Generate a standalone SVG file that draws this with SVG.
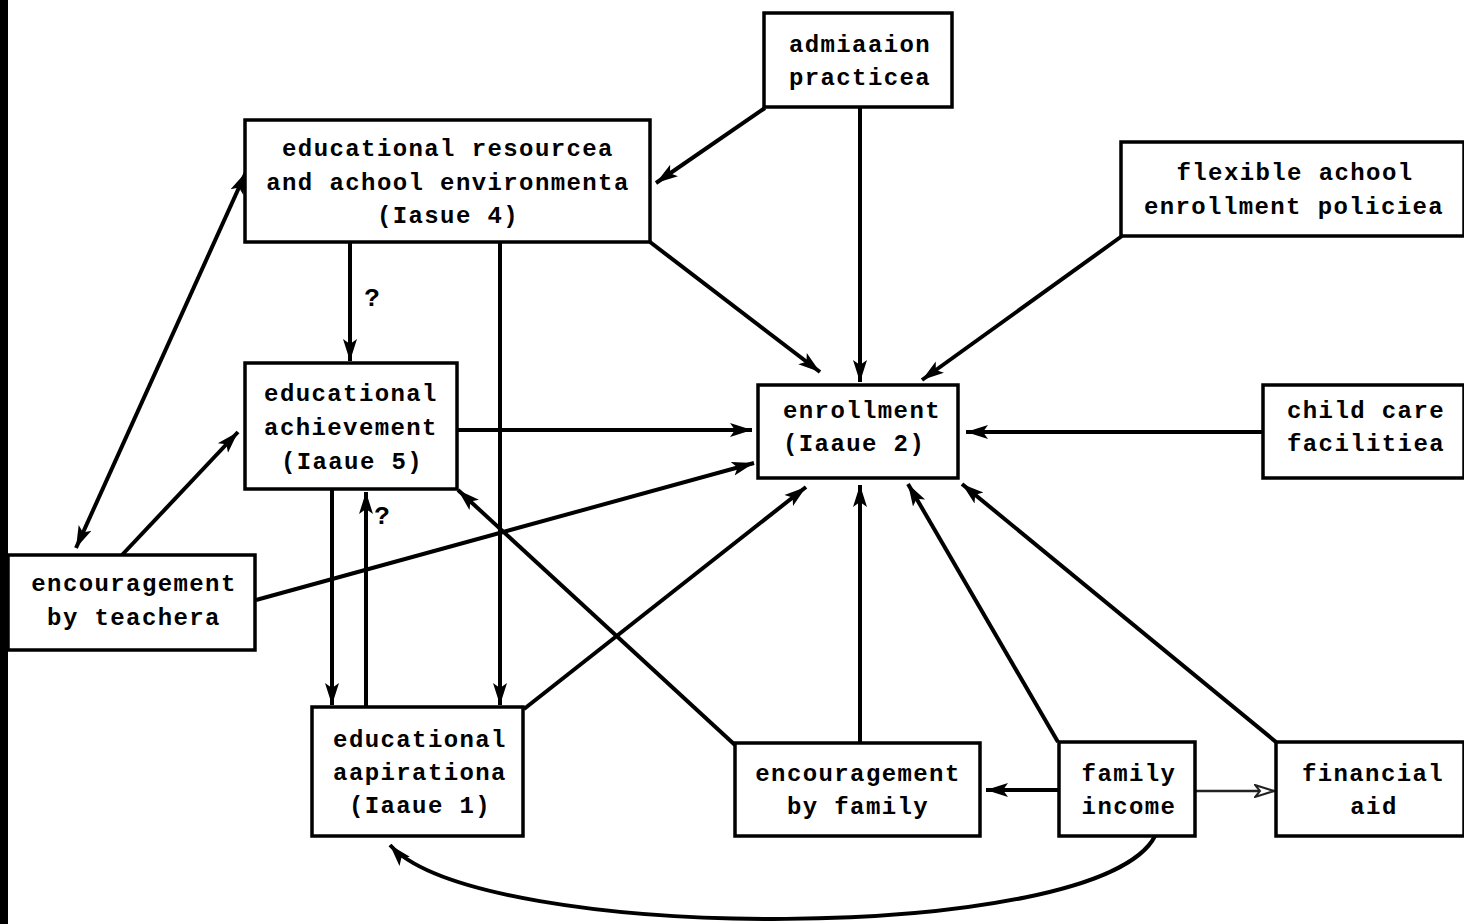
<svg xmlns="http://www.w3.org/2000/svg" width="1464" height="924" viewBox="0 0 1464 924">
<style>
.box{fill:#fff;stroke:#000;stroke-width:3.5}
.t{font-family:"Liberation Mono","DejaVu Sans Mono",monospace;font-weight:bold;font-size:24px;letter-spacing:1.4px;fill:#000;text-anchor:middle}
.ts{text-anchor:start}
.c{fill:none;stroke:#000;stroke-width:4}
.thin{fill:none;stroke:#222;stroke-width:2.4}
.q{font-family:"Liberation Mono","DejaVu Sans Mono",monospace;font-weight:bold;font-size:26px;fill:#000;text-anchor:middle}
</style>
<defs>
<marker id="ah" markerUnits="userSpaceOnUse" markerWidth="24" markerHeight="16" refX="22" refY="8" orient="auto">
<path d="M0,1 L22,8 L0,15 L5,8 Z" fill="#000"/>
</marker>
<marker id="ahs" markerUnits="userSpaceOnUse" markerWidth="24" markerHeight="16" refX="22" refY="8" orient="auto-start-reverse">
<path d="M0,1 L22,8 L0,15 L5,8 Z" fill="#000"/>
</marker>
<marker id="ahl" markerUnits="userSpaceOnUse" markerWidth="22" markerHeight="14" refX="20" refY="7" orient="auto">
<path d="M1,1 L20,7 L1,13 L6,7 Z" fill="#fff" stroke="#222" stroke-width="2"/>
</marker>
</defs>
<rect x="0" y="0" width="1464" height="924" fill="#fff"/>
<rect x="0" y="0" width="8" height="924" fill="#000"/>

<g id="connectors">
<line class="c" x1="765" y1="108" x2="656" y2="183" marker-end="url(#ah)"/>
<line class="c" x1="860" y1="107" x2="860" y2="382" marker-end="url(#ah)"/>
<line class="c" x1="650" y1="242" x2="820" y2="372" marker-end="url(#ah)"/>
<line class="c" x1="1122" y1="236" x2="922" y2="380" marker-end="url(#ah)"/>
<line class="c" x1="350" y1="243" x2="350" y2="361" marker-end="url(#ah)"/>
<line class="c" x1="500" y1="243" x2="500" y2="705" marker-end="url(#ah)"/>
<line class="c" x1="246" y1="172" x2="76" y2="548" marker-start="url(#ahs)" marker-end="url(#ah)"/>
<line class="c" x1="122" y1="555" x2="238" y2="432" marker-end="url(#ah)"/>
<line class="c" x1="256" y1="600" x2="754" y2="463" marker-end="url(#ah)"/>
<line class="c" x1="458" y1="430" x2="752" y2="430" marker-end="url(#ah)"/>
<line class="c" x1="332" y1="490" x2="332" y2="705" marker-end="url(#ah)"/>
<line class="c" x1="366" y1="707" x2="366" y2="492" marker-end="url(#ah)"/>
<line class="c" x1="524" y1="709" x2="806" y2="487" marker-end="url(#ah)"/>
<line class="c" x1="735" y1="745" x2="458" y2="490" marker-end="url(#ah)"/>
<line class="c" x1="860" y1="743" x2="860" y2="485" marker-end="url(#ah)"/>
<line class="c" x1="1058" y1="742" x2="908" y2="484" marker-end="url(#ah)"/>
<line class="c" x1="1276" y1="742" x2="962" y2="484" marker-end="url(#ah)"/>
<line class="c" x1="1263" y1="432" x2="966" y2="432" marker-end="url(#ah)"/>
<line class="c" x1="1059" y1="790" x2="986" y2="790" marker-end="url(#ah)"/>
<line class="thin" x1="1195" y1="791" x2="1274" y2="791" marker-end="url(#ahl)"/>
<path class="c" d="M1155,836 C1100,945 480,945 390,845" marker-end="url(#ah)"/>
<text class="q" x="372" y="306">?</text>
<text class="q" x="382" y="524">?</text>
</g>

<g id="admission">
<rect class="box" x="764" y="13" width="188" height="94"/>
<text class="t" x="860" y="52">admiaaion</text>
<text class="t" x="860" y="85">practicea</text>
</g>
<g id="resources">
<rect class="box" x="245" y="120" width="405" height="122"/>
<text class="t" x="448" y="156">educational resourcea</text>
<text class="t" x="448" y="190">and achool environmenta</text>
<text class="t" x="448" y="223">(Iasue 4)</text>
</g>
<g id="flexible">
<rect class="box" x="1121" y="142" width="343" height="94"/>
<text class="t" x="1295" y="180">flexible achool</text>
<text class="t" x="1294" y="214">enrollment policiea</text>
</g>
<g id="achievement">
<rect class="box" x="245" y="363" width="212" height="126"/>
<text class="t" x="351" y="401">educational</text>
<text class="t" x="351" y="435">achievement</text>
<text class="t" x="352" y="469">(Iaaue 5)</text>
</g>
<g id="enrollment">
<rect class="box" x="758" y="385" width="200" height="93"/>
<text class="t ts" x="783" y="418">enrollment</text>
<text class="t ts" x="783" y="451">(Iaaue 2)</text>
</g>
<g id="childcare">
<rect class="box" x="1263" y="385" width="201" height="93"/>
<text class="t" x="1366" y="418">child care</text>
<text class="t" x="1366" y="451">facilitiea</text>
</g>
<g id="teachers">
<rect class="box" x="8" y="555" width="247" height="95"/>
<text class="t" x="134" y="591">encouragement</text>
<text class="t" x="134" y="625">by teachera</text>
</g>
<g id="aspirations">
<rect class="box" x="312" y="707" width="211" height="129"/>
<text class="t" x="420" y="747">educational</text>
<text class="t" x="420" y="780">aapirationa</text>
<text class="t" x="420" y="813">(Iaaue 1)</text>
</g>
<g id="family_encouragement">
<rect class="box" x="735" y="743" width="245" height="93"/>
<text class="t" x="858" y="781">encouragement</text>
<text class="t" x="858" y="814">by family</text>
</g>
<g id="family_income">
<rect class="box" x="1059" y="742" width="136" height="94"/>
<text class="t" x="1129" y="781">family</text>
<text class="t" x="1129" y="814">income</text>
</g>
<g id="financial_aid">
<rect class="box" x="1276" y="742" width="188" height="94"/>
<text class="t" x="1373" y="781">financial</text>
<text class="t" x="1374" y="814">aid</text>
</g>
</svg>
